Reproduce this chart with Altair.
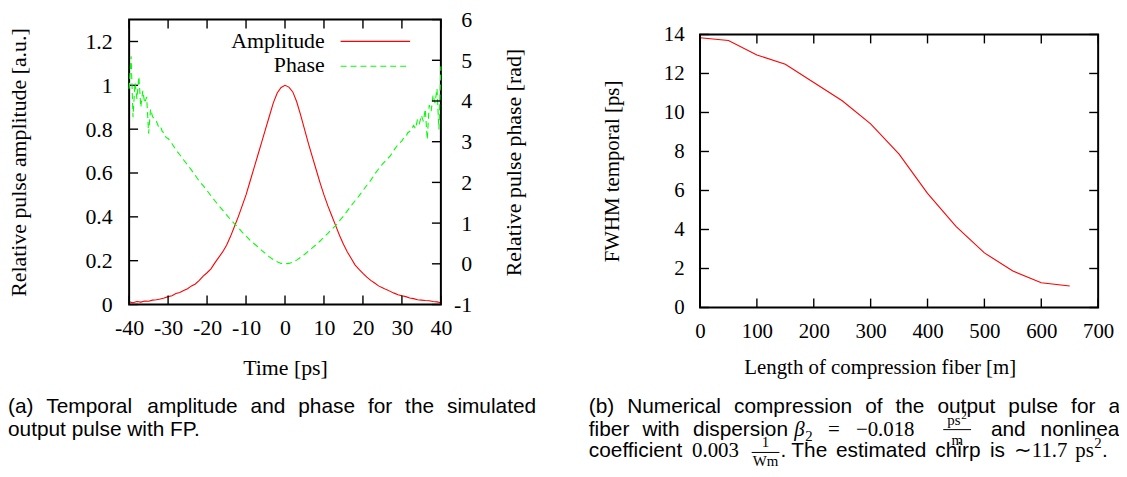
import altair as alt
import pandas as pd

# ------------------------------------------------------------------ data
amp_time = list(range(-40, 41))
amp_value = [
    0.012, 0.008, 0.014, 0.011, 0.016, 0.015, 0.020, 0.022, 0.025, 0.030,
    0.036, 0.040, 0.050, 0.055, 0.064, 0.072, 0.085, 0.094, 0.110, 0.130,
    0.145, 0.163, 0.190, 0.215, 0.240, 0.270, 0.310, 0.355, 0.400, 0.450,
    0.500, 0.560, 0.620, 0.680, 0.740, 0.800, 0.860, 0.920, 0.965, 0.990,
    1.000,
    0.992, 0.970, 0.925, 0.865, 0.800, 0.735, 0.675, 0.615, 0.555, 0.500,
    0.450, 0.405, 0.360, 0.315, 0.275, 0.240, 0.210, 0.180, 0.160, 0.142,
    0.125, 0.110, 0.098, 0.085, 0.077, 0.068, 0.060, 0.052, 0.045, 0.040,
    0.036, 0.030, 0.027, 0.022, 0.020, 0.018, 0.017, 0.014, 0.012, 0.008,
]

phase_time = ([x / 2 for x in range(-80, -59)] + list(range(-29, 30))
              + [x / 2 for x in range(60, 81)])
phase_value = [
    4.30, 5.10, 3.60, 4.45, 4.05, 4.60, 3.85, 4.25, 3.95, 4.10, 3.20,
    3.80, 3.62, 3.55, 3.50, 3.38, 3.40, 3.25, 3.22, 3.10, 3.08,
    2.95, 2.80, 2.68, 2.55, 2.43, 2.30, 2.17, 2.03, 1.92, 1.80,
    1.67, 1.55, 1.43, 1.32, 1.20, 1.09, 0.99, 0.89, 0.78, 0.68,
    0.58, 0.50, 0.42, 0.33, 0.25, 0.17, 0.10, 0.05, 0.01,
    0.00,
    0.01, 0.04, 0.09, 0.16, 0.23, 0.31, 0.39, 0.47, 0.56, 0.66,
    0.75, 0.85, 0.94, 1.06, 1.17, 1.30, 1.43, 1.55, 1.67, 1.80,
    1.93, 2.05, 2.20, 2.33, 2.45, 2.55, 2.65, 2.80, 2.93,
    3.02, 3.10, 3.12, 3.22, 3.25, 3.30, 3.40, 3.32, 3.55, 3.45,
    3.65, 3.50, 3.80, 3.05, 3.90, 3.75, 4.15, 3.95, 4.30, 3.30, 4.85,
]

fiber_length = [0, 50, 100, 150, 200, 250, 300, 350, 400, 450, 500, 550, 600, 650]
fwhm_ps = [13.83, 13.69, 12.95, 12.47, 11.54, 10.60, 9.42, 7.86, 5.85, 4.16,
           2.80, 1.87, 1.27, 1.10]

time_ticks = [-40, -30, -20, -10, 0, 10, 20, 30, 40]
amp_ticks = [0, 0.2, 0.4, 0.6, 0.8, 1, 1.2]
phase_ticks = [-1, 0, 1, 2, 3, 4, 5, 6]
length_ticks = [0, 100, 200, 300, 400, 500, 600, 700]
fwhm_ticks = [0, 2, 4, 6, 8, 10, 12, 14]

legend_labels = ["Amplitude", "Phase"]

# ------------------------------------------------------------------ layout
SERIF = "Liberation Serif"
SANS = "Liberation Sans"
FSA = 22                   # serif text size, panel (a)
FSB = 21                   # serif text size, panel (b)
CAP = 21                   # caption size
RED = "#ff0000"
GREEN = "#00ff00"
TICK = 9
M = 8                      # page margin: group coords = page coords - 8
W, H = 1127 - M, 477 - 2 * M

# panel frames in page coordinates
A_L, A_R, A_T, A_B = 130, 444, 18, 305
B_L, B_R, B_T, B_B = 705, 1106, 33, 308


def g(v):
    return v - M


LABEL_EXPR = "'' + datum.value"


def axis(fs, **kw):
    return alt.Axis(ticks=False, tickSize=0, domain=False, grid=False,
                    labelFont=SERIF, labelFontSize=fs, labelColor="black",
                    labelFlush=False, labelOverlap=False, labelBound=False,
                    titleFont=SERIF, titleFontSize=fs, titleColor="black",
                    titleFontWeight="normal", titleBaseline="middle",
                    titleAlign="center", labelExpr=LABEL_EXPR, **kw)


def one():
    return alt.Chart(pd.DataFrame({"d": [0]}))


def ticks_x(vals, field, scale, ax, top, bottom):
    base = alt.Chart(pd.DataFrame({field: vals})).mark_rule(
        color="black", strokeWidth=1.4)
    enc = alt.X(f"{field}:Q", scale=scale, axis=ax)
    return [base.encode(x=enc, y=alt.value(g(bottom)), y2=alt.value(g(bottom) - TICK)),
            base.encode(x=enc, y=alt.value(g(top)), y2=alt.value(g(top) + TICK))]


def ticks_y(vals, field, scale, ax, x_edge, inward):
    base = alt.Chart(pd.DataFrame({field: vals})).mark_rule(
        color="black", strokeWidth=1.4)
    enc = alt.Y(f"{field}:Q", scale=scale, axis=ax)
    return [base.encode(y=enc, x=alt.value(g(x_edge)),
                        x2=alt.value(g(x_edge) + inward))]


def frame(l, r, t, b):
    return one().mark_rect(fill="transparent", stroke="black", strokeWidth=2).encode(
        x=alt.value(g(l)), x2=alt.value(g(r)), y=alt.value(g(t)), y2=alt.value(g(b)))


def txt(s, px, py, font=SANS, size=CAP, align="left", baseline="alphabetic",
        style="normal"):
    return one().mark_text(text=s, font=font, fontSize=size, align=align,
                           baseline=baseline, fontStyle=style, color="black").encode(
        x=alt.value(g(px)), y=alt.value(g(py)))


def hrule(x0, x1, py, color="black", dash=None, sw=1.0):
    kw = {"strokeDash": dash} if dash else {}
    return one().mark_rule(color=color, strokeWidth=sw, **kw).encode(
        x=alt.value(g(x0)), x2=alt.value(g(x1)), y=alt.value(g(py)))


ARIAL = {' ': 278, '(': 333, ')': 333, '.': 278, 'a': 556, 'b': 556, 'c': 500,
         'd': 556, 'e': 556, 'f': 278, 'g': 556, 'h': 556, 'i': 222, 'l': 222,
         'm': 833, 'n': 556, 'o': 556, 'p': 556, 'r': 333, 's': 500, 't': 278,
         'u': 556, 'v': 500, 'w': 722, 'T': 611, 'F': 611, 'P': 667, 'N': 722}


def width(s, fs=CAP):
    return sum(ARIAL.get(c, 556) for c in s) * fs / 1000


def justified(words, x0, x1, py):
    total = sum(width(w) for w in words)
    gap = (x1 - x0 - total) / (len(words) - 1)
    out, x = [], x0
    for w in words:
        out.append(txt(w, x, py))
        x += width(w) + gap
    return out


# ------------------------------------------------------------------ panel (a)
xa = alt.Scale(domain=[-40, 40], range=[g(A_L), g(A_R)], nice=False, zero=False)
ya = alt.Scale(domain=[0, 1.3], range=[g(A_B), g(A_T)], nice=False, zero=False)
yp = alt.Scale(domain=[-1, 6], range=[g(A_B), g(A_T)], nice=False, zero=False)

ax_time = axis(FSA, values=time_ticks, orient="bottom", offset=g(A_B) - H,
               labelPadding=13, title="Time [ps]",
               titleX=g((A_L + A_R) / 2), titleY=63)
ax_amp = axis(FSA, values=amp_ticks, orient="left", offset=-g(A_L),
              labelPadding=17, title="Relative pulse amplitude [a.u.]",
              titleX=19 - A_L, titleY=g((A_T + A_B) / 2), titleAngle=270)
ax_phase = axis(FSA, values=phase_ticks, orient="right", offset=g(A_R) - W,
                labelPadding=31, labelAlign="right",
                title="Relative pulse phase [rad]",
                titleX=517 - A_R, titleY=g((A_T + A_B) / 2), titleAngle=270)

amp_df = pd.DataFrame({"time": amp_time, "amp": amp_value})
phase_df = pd.DataFrame({"time": phase_time, "phase": phase_value})

amp_line = alt.Chart(amp_df).mark_line(color=RED, strokeWidth=1.1).encode(
    x=alt.X("time:Q", scale=xa, axis=ax_time),
    y=alt.Y("amp:Q", scale=ya, axis=ax_amp),
)
phase_line = alt.Chart(phase_df).mark_line(
    color=GREEN, strokeWidth=1.1, strokeDash=[6, 4]).encode(
    x=alt.X("time:Q", scale=xa, axis=ax_time),
    y=alt.Y("phase:Q", scale=yp, axis=ax_phase),
)

legend_a = [
    txt(legend_labels[0], 327, 40, font=SERIF, size=FSA, align="right",
        baseline="middle"),
    txt(legend_labels[1], 327, 64, font=SERIF, size=FSA, align="right",
        baseline="middle"),
    hrule(343, 413, 40, color=RED, sw=1.1),
    hrule(343, 413, 65, color=GREEN, dash=[6, 4], sw=1.1),
]

caption_a = justified(
    ["(a)", "Temporal", "amplitude", "and", "phase", "for", "the", "simulated"],
    8, 540, 414) + [txt("output pulse with FP.", 8, 437)]

amp_group = alt.layer(
    amp_line,
    *ticks_x(time_ticks, "time", xa, ax_time, A_T, A_B),
    *ticks_y(amp_ticks, "amp", ya, ax_amp, A_L, TICK),
    *legend_a,
    *caption_a,
    frame(A_L, A_R, A_T, A_B),
)
phase_group = alt.layer(
    phase_line,
    *ticks_y(phase_ticks, "phase", yp, ax_phase, A_R, -TICK),
)
panel_a = alt.layer(amp_group, phase_group).resolve_scale(y="independent")

# ------------------------------------------------------------------ panel (b)
xb = alt.Scale(domain=[0, 700], range=[g(B_L), g(B_R)], nice=False, zero=False)
yb = alt.Scale(domain=[0, 14], range=[g(B_B), g(B_T)], nice=False, zero=False)
ax_len = axis(FSB, values=length_ticks, orient="bottom", offset=g(B_B) - H,
              labelPadding=13, title="Length of compression fiber [m]",
              titleX=g(886), titleY=60)
ax_fwhm = axis(FSB, values=fwhm_ticks, orient="left", offset=-g(B_L),
               labelPadding=16, title="FWHM temporal [ps]",
               titleX=617 - B_L, titleY=g((B_T + B_B) / 2), titleAngle=270)
fw_df = pd.DataFrame({"length": fiber_length, "fwhm": fwhm_ps})

fw_line = alt.Chart(fw_df).mark_line(color=RED, strokeWidth=1.1).encode(
    x=alt.X("length:Q", scale=xb, axis=ax_len),
    y=alt.Y("fwhm:Q", scale=yb, axis=ax_fwhm),
)

caption_b = justified(
    ["(b)", "Numerical", "compression", "of", "the", "output", "pulse", "for", "a"],
    593, 1128, 414)
caption_b += [
    # line 2
    txt("fiber", 593, 437),
    txt("with", 647, 437),
    txt("dispersion", 698, 437),
    txt("\u03b2", 800, 437, font=SERIF, size=21, style="italic"),
    txt("2", 811, 442, font=SERIF, size=15),
    txt("=", 834, 437, font=SERIF, size=21),
    txt("\u22120.018", 862, 437, font=SERIF, size=21),
    txt("ps", 954, 426, font=SERIF, size=15),
    txt("2", 968, 420, font=SERIF, size=11),
    hrule(950, 978, 431),
    txt("m", 964, 446, font=SERIF, size=15, align="center"),
    txt("and", 998, 437),
    txt("nonlinear", 1048, 437),
    # line 3
    txt("coefficient", 593, 459),
    txt("0.003", 697, 459, font=SERIF, size=21),
    txt("1", 771, 449, font=SERIF, size=15, align="center"),
    hrule(757, 785, 454),
    txt("Wm", 771, 468, font=SERIF, size=15, align="center"),
    txt(".", 786, 459),
    txt("The", 797, 459),
    txt("estimated", 842, 459),
    txt("chirp", 942, 459),
    txt("is", 997, 459),
    txt("\u223c11.7", 1021, 459, font=SERIF, size=21),
    txt("ps", 1083, 459, font=SERIF, size=21),
    txt("2", 1102, 450, font=SERIF, size=15),
    txt(".", 1110, 459),
]

panel_b = alt.layer(
    fw_line,
    *ticks_x(length_ticks, "length", xb, ax_len, B_T, B_B),
    *ticks_y(fwhm_ticks, "fwhm", yb, ax_fwhm, B_L, TICK),
    *ticks_y(fwhm_ticks, "fwhm", yb, ax_fwhm, B_R, -TICK),
    *caption_b,
    frame(B_L, B_R, B_T, B_B),
)

chart = alt.layer(panel_a, panel_b).resolve_scale(
    x="independent", y="independent").properties(
    width=W, height=H, padding=0,
    autosize=alt.AutoSizeParams(type="none"),
    background="white",
).configure_view(strokeWidth=0)

chart.save("out.html", embed_options={"renderer": "svg", "actions": False})
